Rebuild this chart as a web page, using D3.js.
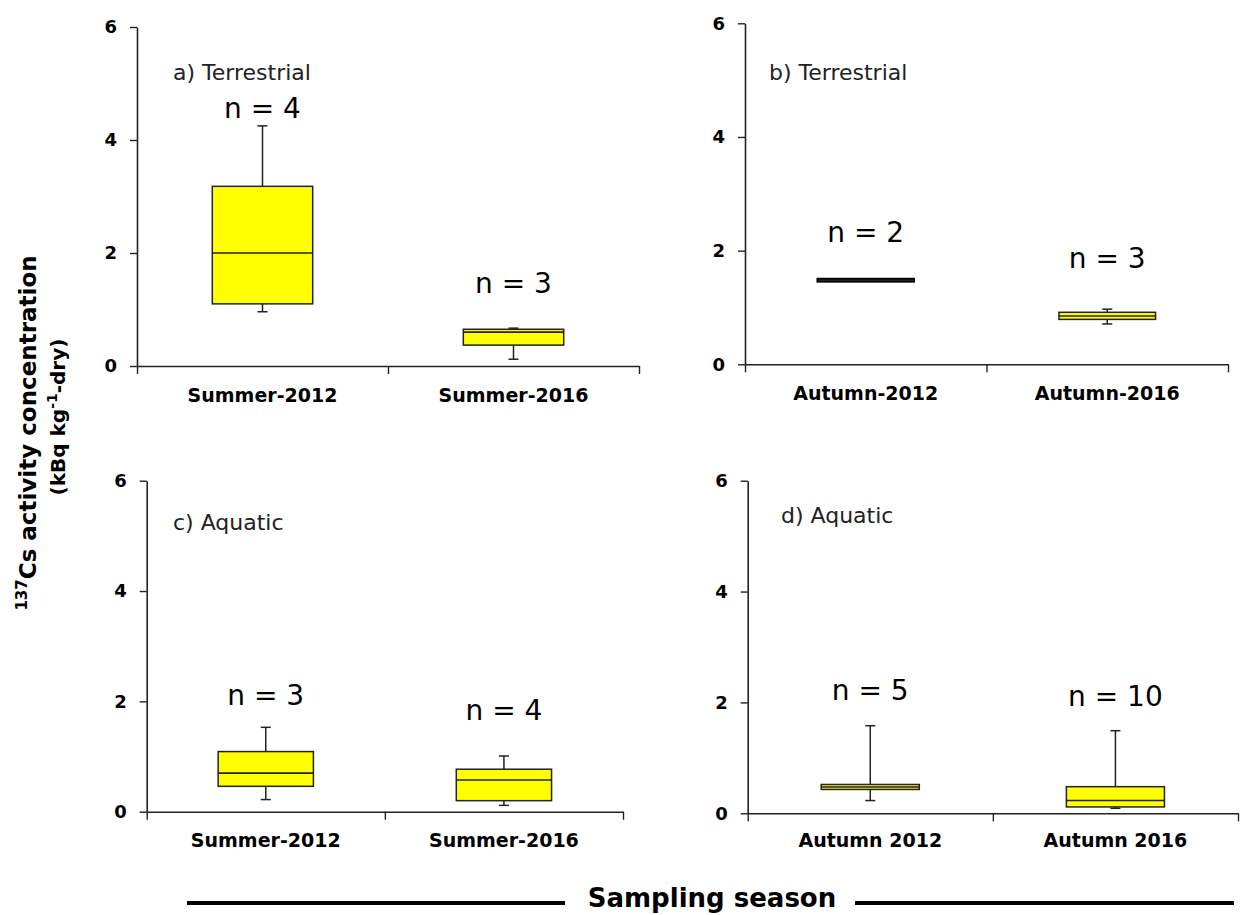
<!DOCTYPE html>
<html>
<head>
<meta charset="utf-8">
<script src="https://cdn.jsdelivr.net/npm/d3@7"></script>
<style>
  html, body { margin: 0; padding: 0; background: #fff; }
  svg { display: block; }
</style>
</head>
<body>
<svg id="chart" width="1245" height="915"></svg>
<script>
// ---------------- DATA ----------------
const panelTitles = ["a) Terrestrial", "b) Terrestrial", "c) Aquatic", "d) Aquatic"];
const categoriesA = ["Summer-2012", "Summer-2016"];
const categoriesB = ["Autumn-2012", "Autumn-2016"];
const categoriesC = ["Summer-2012", "Summer-2016"];
const categoriesD = ["Autumn 2012", "Autumn 2016"];
const yTicks = [0, 2, 4, 6];

// box statistics per panel: [category0, category1]
const whiskerLowA = [0.96, 0.12];
const q1A         = [1.10, 0.37];
const medianA     = [2.00, 0.60];
const q3A         = [3.18, 0.65];
const whiskerHighA= [4.25, 0.67];
const nA          = [4, 3];

const whiskerLowB = [1.48, 0.71];
const q1B         = [1.455, 0.79];
const medianB     = [1.48, 0.85];
const q3B         = [1.505, 0.915];
const whiskerHighB= [1.48, 0.97];
const nB          = [2, 3];

const whiskerLowC = [0.22, 0.115];
const q1C         = [0.46, 0.20];
const medianC     = [0.70, 0.575];
const q3C         = [1.09, 0.77];
const whiskerHighC= [1.53, 1.01];
const nC          = [3, 4];

const whiskerLowD = [0.23, 0.09];
const q1D         = [0.43, 0.115];
const medianD     = [0.475, 0.23];
const q3D         = [0.52, 0.48];
const whiskerHighD= [1.58, 1.49];
const nD          = [5, 10];

// where the "n = " annotations sit (in data units)
const nLabelAtA = [4.39, 1.29];
const nLabelAtB = [2.15, 1.69];
const nLabelAtC = [1.93, 1.66];
const nLabelAtD = [2.05, 1.94];

const yTitleLine1 = ["137", "Cs activity concentration"];
const yTitleLine2 = ["(kBq kg", "-1", "-dry)"];
const xTitle = "Sampling season";

// ---------------- LAYOUT ----------------
const layout = [
  { x0: 137,   x1: 639,  yBottom: 366,   yTop: 27,    titleX: 173, titleY: 80,  labelDy: 36 },
  { x0: 745,   x1: 1228, yBottom: 364.3, yTop: 23.3,  titleX: 769, titleY: 80,  labelDy: 36 },
  { x0: 146.7, x1: 623,  yBottom: 811.7, yTop: 480.7, titleX: 173, titleY: 530, labelDy: 35 },
  { x0: 747.7, x1: 1238, yBottom: 813.3, yTop: 480.7, titleX: 781, titleY: 523, labelDy: 34 }
];

const panelData = [
  { cats: categoriesA, lo: whiskerLowA, q1: q1A, med: medianA, q3: q3A, hi: whiskerHighA, n: nA, nAt: nLabelAtA },
  { cats: categoriesB, lo: whiskerLowB, q1: q1B, med: medianB, q3: q3B, hi: whiskerHighB, n: nB, nAt: nLabelAtB },
  { cats: categoriesC, lo: whiskerLowC, q1: q1C, med: medianC, q3: q3C, hi: whiskerHighC, n: nC, nAt: nLabelAtC },
  { cats: categoriesD, lo: whiskerLowD, q1: q1D, med: medianD, q3: q3D, hi: whiskerHighD, n: nD, nAt: nLabelAtD }
];

const ink = "#222";
const boxFill = "#FFFF00";
const svg = d3.select("#chart");

panelData.forEach((pd, i) => {
  const L = layout[i];
  const x = d3.scaleBand().domain(pd.cats).range([L.x0, L.x1]).paddingInner(0).paddingOuter(0);
  const y = d3.scaleLinear().domain([0, 6]).range([L.yBottom, L.yTop]);
  const g = svg.append("g");

  // y axis
  const yAxis = g.append("g")
    .attr("transform", `translate(${L.x0},0)`)
    .call(d3.axisLeft(y).tickValues(yTicks).tickSize(7).tickSizeOuter(0).tickPadding(13).tickFormat(d3.format("d")));
  yAxis.select(".domain").attr("stroke", ink).attr("stroke-width", 1.6);
  yAxis.selectAll(".tick line").attr("stroke", ink).attr("stroke-width", 1.4);
  yAxis.selectAll(".tick text")
    .attr("fill", "#000")
    .style("font-family", "'DejaVu Sans', sans-serif")
    .style("font-weight", "bold")
    .style("font-size", "18px");

  // x axis: line with ticks at band boundaries
  const boundary = d3.scaleLinear().domain([0, pd.cats.length]).range(x.range());
  const xAxis = g.append("g")
    .attr("transform", `translate(0,${L.yBottom})`)
    .call(d3.axisBottom(boundary).tickValues(d3.range(pd.cats.length + 1)).tickSize(8).tickSizeOuter(0).tickFormat(""));
  xAxis.select(".domain").attr("stroke", ink).attr("stroke-width", 1.6);
  xAxis.selectAll(".tick line").attr("stroke", ink).attr("stroke-width", 1.4);

  // category labels
  g.selectAll(".catlabel").data(pd.cats).enter().append("text")
    .attr("x", d => x(d) + x.bandwidth() / 2)
    .attr("y", L.yBottom + L.labelDy)
    .attr("text-anchor", "middle")
    .attr("fill", "#000")
    .style("font-family", "'DejaVu Sans', sans-serif")
    .style("font-weight", "bold")
    .style("font-size", "19px")
    .text(d => d);

  // panel title
  g.append("text")
    .attr("x", L.titleX).attr("y", L.titleY)
    .attr("fill", "#222")
    .style("font-family", "'DejaVu Sans', sans-serif")
    .style("font-size", "22px")
    .text(panelTitles[i]);

  // boxes
  const bw = x.bandwidth() * 0.4;
  const capW = 10;
  pd.cats.forEach((c, j) => {
    const cx = x(c) + x.bandwidth() / 2;
    const yq1 = y(pd.q1[j]), yq3 = y(pd.q3[j]);
    const boxH = yq1 - yq3;
    // whiskers
    g.append("line").attr("x1", cx).attr("x2", cx).attr("y1", y(pd.hi[j])).attr("y2", yq3)
      .attr("stroke", ink).attr("stroke-width", 1.5);
    g.append("line").attr("x1", cx).attr("x2", cx).attr("y1", yq1).attr("y2", y(pd.lo[j]))
      .attr("stroke", ink).attr("stroke-width", 1.5);
    g.append("line").attr("x1", cx - capW / 2).attr("x2", cx + capW / 2).attr("y1", y(pd.hi[j])).attr("y2", y(pd.hi[j]))
      .attr("stroke", ink).attr("stroke-width", 1.5);
    g.append("line").attr("x1", cx - capW / 2).attr("x2", cx + capW / 2).attr("y1", y(pd.lo[j])).attr("y2", y(pd.lo[j]))
      .attr("stroke", ink).attr("stroke-width", 1.5);
    // box
    g.append("rect")
      .attr("x", cx - bw / 2).attr("y", yq3)
      .attr("width", bw).attr("height", Math.max(boxH, 0))
      .attr("fill", boxH < 4 ? "#000" : boxFill)
      .attr("stroke", boxH < 4 ? "#000" : ink)
      .attr("stroke-width", boxH < 4 ? 2 : 1.5);
    // median
    g.append("line").attr("x1", cx - bw / 2).attr("x2", cx + bw / 2)
      .attr("y1", y(pd.med[j])).attr("y2", y(pd.med[j]))
      .attr("stroke", ink).attr("stroke-width", 1.6);
    // n label
    g.append("text")
      .attr("x", cx).attr("y", y(pd.nAt[j]))
      .attr("text-anchor", "middle")
      .attr("fill", "#000")
      .style("font-family", "'DejaVu Sans', sans-serif")
      .style("font-size", "28px")
      .text(`n = ${pd.n[j]}`);
  });
});

// y-axis title (rotated)
const yt1 = svg.append("text")
  .attr("transform", "translate(36,433) rotate(-90)")
  .attr("text-anchor", "middle")
  .attr("fill", "#000")
  .style("font-family", "'DejaVu Sans', sans-serif")
  .style("font-weight", "bold")
  .style("font-size", "23px");
yt1.append("tspan").attr("baseline-shift", "super").style("font-size", "15px").text(yTitleLine1[0]);
yt1.append("tspan").text(yTitleLine1[1]);

const yt2 = svg.append("text")
  .attr("transform", "translate(65,417) rotate(-90)")
  .attr("text-anchor", "middle")
  .attr("fill", "#000")
  .style("font-family", "'DejaVu Sans', sans-serif")
  .style("font-weight", "bold")
  .style("font-size", "20px");
yt2.append("tspan").text(yTitleLine2[0]);
yt2.append("tspan").attr("baseline-shift", "super").style("font-size", "14px").text(yTitleLine2[1]);
yt2.append("tspan").text(yTitleLine2[2]);

// x-axis title with flanking lines
const xt = svg.append("text")
  .attr("x", 712).attr("y", 907)
  .attr("text-anchor", "middle")
  .attr("fill", "#000")
  .style("font-family", "'DejaVu Sans', sans-serif")
  .style("font-weight", "bold")
  .style("font-size", "26px")
  .text(xTitle);
svg.append("line").attr("x1", 187).attr("x2", 565).attr("y1", 903).attr("y2", 903)
  .attr("stroke", "#000").attr("stroke-width", 4);
svg.append("line").attr("x1", 855).attr("x2", 1234).attr("y1", 903).attr("y2", 903)
  .attr("stroke", "#000").attr("stroke-width", 4);
</script>
</body>
</html>
